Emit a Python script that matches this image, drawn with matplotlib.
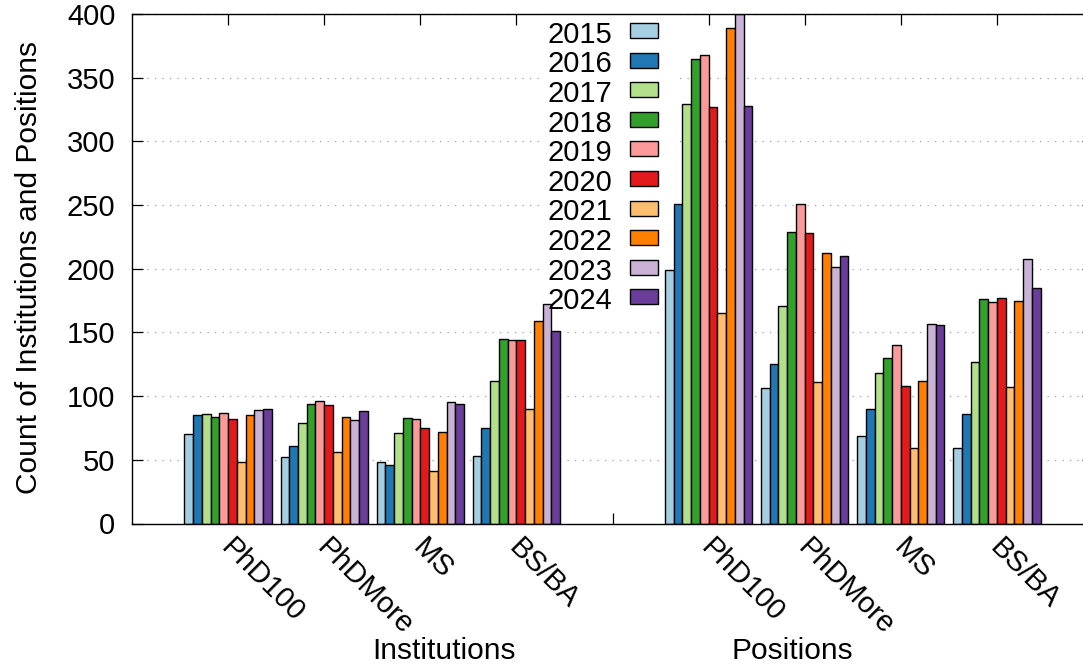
import matplotlib
matplotlib.use("Agg")
import matplotlib.pyplot as plt
from matplotlib.patches import Rectangle
from matplotlib.transforms import ScaledTranslation, blended_transform_factory
import numpy as np

plt.rcParams["font.family"] = ["Liberation Sans", "DejaVu Sans"]

years = ["2015", "2016", "2017", "2018", "2019", "2020", "2021", "2022", "2023", "2024"]
categories = ["PhD100", "PhDMore", "MS", "BS/BA"]

# counts per category, one value per year (2015..2024)
institutions_phd100 = [70, 85, 86, 84, 87, 82, 48, 85, 89, 90]
institutions_phdmore = [52, 61, 79, 94, 96, 93, 56, 84, 81, 88]
institutions_ms = [48, 46, 71, 83, 82, 75, 41, 72, 95, 94]
institutions_bsba = [53, 75, 112, 145, 144, 144, 90, 159, 172, 151]

positions_phd100 = [199, 251, 329, 365, 368, 327, 165, 389, 400, 328]
positions_phdmore = [106, 125, 171, 229, 251, 228, 111, 212, 201, 210]
positions_ms = [69, 90, 118, 130, 140, 108, 59, 112, 157, 156]
positions_bsba = [59, 86, 127, 176, 174, 177, 107, 175, 208, 185]

colors = ["#a6cee3", "#1f78b4", "#b2df8a", "#33a02c", "#fb9a99",
          "#e31a1c", "#fdbf6f", "#ff7f00", "#cab2d6", "#6a3d9a"]

FS = 21
W, H = 1083, 667
fig = plt.figure(figsize=(W / 100, H / 100), dpi=100)


def fx(px):
    return px / W


def fy(py):
    return 1 - py / H


ax_left, ax_right, ax_top, ax_bottom = 132, 1093, 14, 523.5
ax = fig.add_axes([fx(ax_left), fy(ax_bottom),
                   (ax_right - ax_left) / W, (ax_bottom - ax_top) / H])

# two blocks of histogram clusters separated by one empty slot
groups = [institutions_phd100, institutions_phdmore, institutions_ms, institutions_bsba,
          None,
          positions_phd100, positions_phdmore, positions_ms, positions_bsba]
nbars = len(years)
bw = 1.0 / (nbars + 1)

for gi, vals in enumerate(groups):
    if vals is None:
        continue
    for j, v in enumerate(vals):
        ax.bar(gi + (j - (nbars - 1) / 2) * bw, v, width=bw, color=colors[j],
               edgecolor="black", linewidth=1.0, zorder=2)

ax.set_xlim(-1, 9)
ax.set_ylim(0, 400)
ax.set_yticks(np.arange(0, 401, 50))
ax.yaxis.grid(True, color="#a0a0a0", linestyle=(0, (1, 5)), linewidth=0.9, zorder=0.5)
ax.set_axisbelow(True)

# cluster tics; names are written as rotated labels below the axis
xlabels = categories + [""] + categories
ax.set_xticks(range(9))
ax.set_xticklabels([])
ax.tick_params(axis="x", direction="in", length=8, width=0.9, top=True)
ax.tick_params(axis="y", direction="in", length=8, width=0.9, right=True,
               labelsize=FS, pad=12)
label_trans = blended_transform_factory(ax.transData, ax.transAxes) + \
    ScaledTranslation(7 / 100, -9.5 / 100, fig.dpi_scale_trans)
for k, lab in enumerate(xlabels):
    if lab:
        ax.text(k, 0, lab, transform=label_trans, rotation=-45,
                rotation_mode="anchor", ha="left", va="top", fontsize=FS,
                clip_on=False)

for s in ["left", "top", "bottom"]:
    ax.spines[s].set_linewidth(1.0)
ax.spines["right"].set_visible(False)

fig.text(fx(29), fy(267), "Count of Institutions and Positions", rotation=90,
         ha="center", va="center", fontsize=21.5)
fig.text(fx(444), fy(651), "Institutions", ha="center", va="center", fontsize=21.5)
fig.text(fx(792), fy(651), "Positions", ha="center", va="center", fontsize=21.5)

# key with an opaque background
ax.add_patch(Rectangle((fx(541), fy(300)), fx(676) - fx(541), fy(14) - fy(300),
                       transform=fig.transFigure, facecolor="white",
                       edgecolor="none", zorder=1, clip_on=False))
for i, (yr, c) in enumerate(zip(years, colors)):
    base = 42.7 + 29.6 * i
    ax.text(fx(612), fy(base), yr, transform=fig.transFigure, ha="right",
            va="baseline", fontsize=FS, zorder=5)
    top = 23 + 29.6 * i
    ax.add_patch(Rectangle((fx(630), fy(top + 15)), 28 / W, 15 / H,
                           transform=fig.transFigure, facecolor=c,
                           edgecolor="black", linewidth=1.0, zorder=5, clip_on=False))

fig.savefig("out.png", dpi=100)
